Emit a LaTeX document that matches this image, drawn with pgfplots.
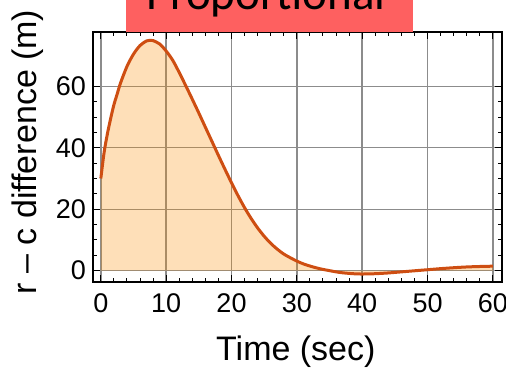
\documentclass[border=0pt]{standalone}
\usepackage{fontspec}
\setmainfont{Liberation Sans}
\newfontfamily\titlefont{Carlito}
\usepackage{pgfplots}
\usepackage{pgfplotstable}
\pgfplotsset{compat=1.18}

\definecolor{curve}{RGB}{206,78,18}
\definecolor{fillorange}{RGB}{251,140,0}
\definecolor{gridgray}{RGB}{140,140,140}
\definecolor{titlered}{RGB}{254,96,96}

% error r - c (m) against time (s)
\pgfplotstableread{
t    d
0    30
0.5  38.5
1    44.5
1.5  49.5
2    54
2.5  57.5
3    61
4    66.5
5    70.5
6    73.3
7    74.8
7.5  75
8    74.9
9    73.8
10   71.5
11   68.5
12   64.5
13   60.2
14   55.8
15   51.3
16   46.7
17   42.1
18   37.5
19   33
20   28.6
21   24.4
22   20.5
23   17.0
24   13.9
25   11.2
26   8.9
27   7.0
28   5.4
29   4.2
30   3.1
31   2.2
32   1.5
33   0.9
34   0.4
35   0.0
36   -0.4
37   -0.7
38   -0.9
39   -1.05
40   -1.1
42   -1.0
44   -0.75
46   -0.4
48   -0.05
50   0.3
52   0.65
54   0.95
56   1.2
58   1.35
60   1.45
}\errdata

\begin{document}
\begin{tikzpicture}
\path[use as bounding box] (0,0) rectangle (506pt,-369pt);
\begin{axis}[
  at={(93pt,-282pt)}, anchor=south west,
  scale only axis, width=409pt, height=250pt,
  xmin=-1.2, xmax=61.4, ymin=-3.7, ymax=77.7,
  xtick={0,10,...,60}, ytick={0,20,40,60},
  minor x tick num=4, minor y tick num=3,
  tick align=inside,
  major tick length=7pt, minor tick length=4pt,
  tick style={black, line width=1pt},
  axis line style={black, line width=1.4pt},
  grid=major,
  major grid style={gridgray, line width=1.4pt},
  /pgf/number format/assume math mode=true,
  ticklabel style={font=\fontsize{27}{30}\selectfont, text=black},
  xticklabel style={anchor=base, inner sep=0pt, yshift=-30pt},
  yticklabel style={anchor=east, inner sep=0pt, xshift=-7pt},
  xlabel={Time (sec)},
  xlabel style={at={(axis description cs:0.496,-0.312)}, anchor=base,
    font=\fontsize{34}{40}\selectfont},
  ylabel={r \textendash{} c difference (m)},
  ylabel style={at={(axis description cs:-0.159,0.52)}, anchor=center,
    font=\fontsize{34}{40}\selectfont},
]
\addplot[draw=none, fill=fillorange, fill opacity=0.28, smooth]
  table[x=t, y=d] {\errdata} \closedcycle;
\addplot[curve, line width=3pt, smooth] table[x=t, y=d] {\errdata};
\end{axis}
\fill[titlered] (126pt,0pt) rectangle (413pt,-32pt);
\node[anchor=base, inner sep=0pt, font=\titlefont\fontsize{47}{50}\selectfont]
  at (266pt,-10pt) {Proportional};
\end{tikzpicture}
\end{document}
